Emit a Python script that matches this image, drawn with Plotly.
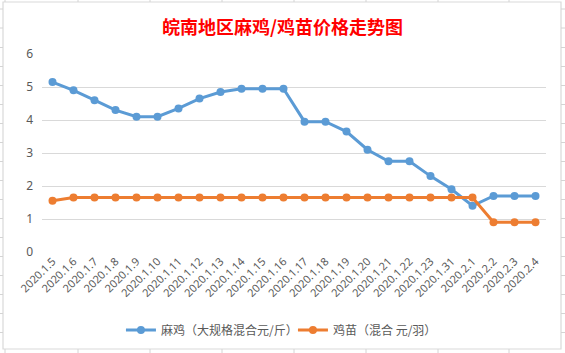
import plotly.graph_objects as go

dates = ["2020.1.5", "2020.1.6", "2020.1.7", "2020.1.8", "2020.1.9", "2020.1.10",
         "2020.1.11", "2020.1.12", "2020.1.13", "2020.1.14", "2020.1.15", "2020.1.16",
         "2020.1.17", "2020.1.18", "2020.1.19", "2020.1.20", "2020.1.21", "2020.1.22",
         "2020.1.23", "2020.1.31", "2020.2.1", "2020.2.2", "2020.2.3", "2020.2.4"]
chicken = [5.15, 4.9, 4.6, 4.3, 4.1, 4.1, 4.35, 4.65, 4.85, 4.95, 4.95, 4.95,
           3.95, 3.95, 3.65, 3.1, 2.75, 2.75, 2.3, 1.9, 1.4, 1.7, 1.7, 1.7]
chick = [1.55, 1.65, 1.65, 1.65, 1.65, 1.65, 1.65, 1.65, 1.65, 1.65, 1.65, 1.65,
         1.65, 1.65, 1.65, 1.65, 1.65, 1.65, 1.65, 1.65, 1.65, 0.9, 0.9, 0.9]
name1 = "麻鸡（大规格混合元/斤）"
name2 = "鸡苗（混合 元/羽）"
title = "皖南地区麻鸡/鸡苗价格走势图"
yticks = [0, 1, 2, 3, 4, 5, 6]

W, H = 565, 353
L, R, T, B = 42, 546, 54, 252

fig = go.Figure()
fig.add_trace(go.Scatter(x=dates, y=chicken, name=name1, mode="lines+markers",
                         line=dict(color="#5B9BD5", width=3),
                         marker=dict(color="#5B9BD5", size=8)))
fig.add_trace(go.Scatter(x=dates, y=chick, name=name2, mode="lines+markers",
                         line=dict(color="#ED7D31", width=3),
                         marker=dict(color="#ED7D31", size=8)))

def px(x):
    return (x - L) / (R - L)

def py(y):
    return (B - y) / (B - T)

shapes = []
# chart border
shapes.append(dict(type="rect", xref="paper", yref="paper",
                   x0=px(3), x1=px(561), y0=py(349), y1=py(2),
                   line=dict(color="#D9D9D9", width=1.2), layer="below"))
# faint spreadsheet grid outside the chart
g = "#D4D4D4"
for yy in [9, 28, 47.5, 66.5, 85.5, 104.5, 123.5, 142.5, 161.5, 180.5, 199.5, 218.5,
           237.5, 256.5, 275.5, 294.5, 313.5, 332.5]:
    shapes.append(dict(type="line", xref="paper", yref="paper",
                       x0=px(0), x1=px(3), y0=py(yy), y1=py(yy), line=dict(color=g, width=1)))
    shapes.append(dict(type="line", xref="paper", yref="paper",
                       x0=px(561), x1=px(565), y0=py(yy), y1=py(yy), line=dict(color=g, width=1)))
for xx in [5, 78, 150, 222, 294, 366, 438, 509]:
    shapes.append(dict(type="line", xref="paper", yref="paper",
                       x0=px(xx), x1=px(xx), y0=py(0), y1=py(2), line=dict(color=g, width=1)))
    shapes.append(dict(type="line", xref="paper", yref="paper",
                       x0=px(xx), x1=px(xx), y0=py(349), y1=py(353), line=dict(color=g, width=1)))

fig.update_layout(
    width=W, height=H,
    margin=dict(l=L, r=W - R, t=T, b=H - B, pad=0, autoexpand=False),
    paper_bgcolor="white", plot_bgcolor="white",
    font=dict(family="Noto Sans CJK SC, Noto Sans, sans-serif", color="#595959", size=12),
    showlegend=True,
    legend=dict(orientation="h", x=px(127) - 0.012, xanchor="left", y=py(330), yanchor="middle",
                font=dict(size=12, color="#595959"), itemwidth=30, traceorder="normal",
                entrywidth=127, entrywidthmode="pixels",
                bgcolor="rgba(0,0,0,0)"),
    annotations=[dict(text="<b>" + title + "</b>", xref="paper", yref="paper",
                      x=px(282), y=py(26), xanchor="center", yanchor="middle",
                      showarrow=False,
                      font=dict(size=18, color="#FF0000",
                                family="Noto Sans CJK SC, sans-serif"))],
    shapes=shapes,
    xaxis=dict(type="category", range=[-0.5, len(dates) - 0.5], tickangle=-45,
               automargin=False,
               showgrid=False, zeroline=False, showline=False, ticks="",
               tickfont=dict(size=11, color="#595959",
                             family="Noto Sans, DejaVu Sans, sans-serif")),
    yaxis=dict(range=[0, 6], tickvals=yticks, showgrid=True, gridcolor="#D9D9D9",
               gridwidth=1, zeroline=False, showline=False, ticks="",
               automargin=False, ticklabelstandoff=8,
               tickfont=dict(size=12, color="#595959",
                             family="Noto Sans, DejaVu Sans, sans-serif")),
)

fig.write_html("out.html")
